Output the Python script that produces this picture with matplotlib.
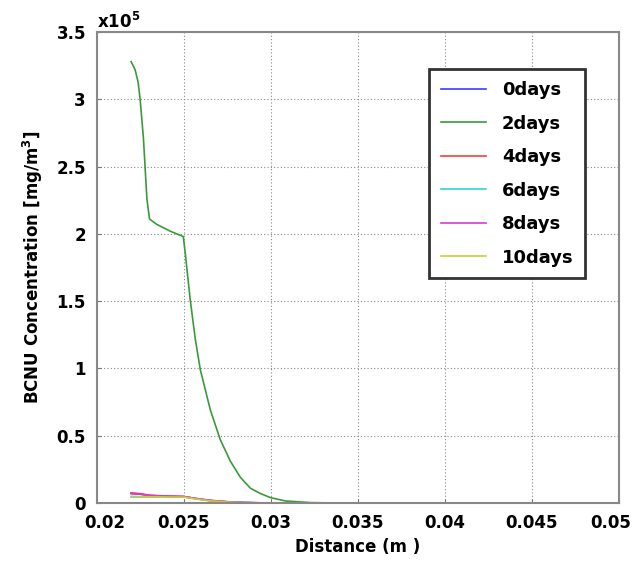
import numpy as np
import matplotlib
matplotlib.use("Agg")
import matplotlib.pyplot as plt
from matplotlib.transforms import ScaledTranslation

# Distance (m) and concentration (x1e5 mg/m^3)
x_green = [0.02196, 0.02219, 0.02236, 0.02248, 0.02267, 0.02287, 0.02302,
           0.02344, 0.02421, 0.02496, 0.02508, 0.02536, 0.02565, 0.02594,
           0.02652, 0.02709, 0.02767, 0.02825, 0.02882, 0.0294, 0.02998,
           0.03084, 0.03228, 0.03361]
y_green = [3.28, 3.22, 3.13, 3.00, 2.71, 2.26, 2.11, 2.07, 2.02, 1.98, 1.85,
           1.51, 1.22, 0.99, 0.69, 0.47, 0.31, 0.19, 0.11, 0.07, 0.04, 0.015,
           0.003, 0.0]

x_low = [0.02196, 0.0225, 0.023, 0.024, 0.025, 0.0258, 0.0265, 0.0275,
         0.0285, 0.0295, 0.0305]
y_0days = [0.070, 0.065, 0.055, 0.050, 0.048, 0.030, 0.018, 0.008, 0.003, 0.001, 0.0]
y_4days = [0.075, 0.070, 0.058, 0.052, 0.048, 0.032, 0.020, 0.010, 0.004, 0.001, 0.0]
y_6days = [0.045, 0.045, 0.045, 0.045, 0.045, 0.030, 0.018, 0.008, 0.003, 0.001, 0.0]
y_8days = [0.072, 0.066, 0.056, 0.050, 0.047, 0.031, 0.019, 0.009, 0.003, 0.001, 0.0]
y_10days = [0.050, 0.048, 0.046, 0.045, 0.044, 0.028, 0.016, 0.007, 0.002, 0.0, 0.0]

labels = ["0days", "2days", "4days", "6days", "8days", "10days"]
colours = ["#3b3bff", "#3a9a3a", "#ff3b3b", "#2ed6d6", "#d63bd6", "#cccc33"]

plt.rcParams["font.family"] = "DejaVu Sans"
plt.rcParams["font.weight"] = "bold"

fig = plt.figure(figsize=(6.36, 5.65), dpi=100)
ax = fig.add_axes([0.1525, 0.1097, 0.8205, 0.8337])

series = [(x_low, y_0days), (x_green, y_green), (x_low, y_4days),
          (x_low, y_6days), (x_low, y_8days), (x_low, y_10days)]
for (xs, ys), lab, c in zip(series, labels, colours):
    ax.plot(xs, ys, color=c, linewidth=1.2, label=lab)

ax.set_xlim(0.02, 0.05)
ax.set_ylim(0, 3.5)
ax.set_xticks([0.02, 0.025, 0.03, 0.035, 0.04, 0.045, 0.05])
ax.set_xticklabels(["0.02", "0.025", "0.03", "0.035", "0.04", "0.045", "0.05"])
ax.set_yticks([0, 0.5, 1, 1.5, 2, 2.5, 3, 3.5])
ax.set_yticklabels(["0", "0.5", "1", "1.5", "2", "2.5", "3", "3.5"])
ax.tick_params(labelsize=12, length=3, direction="in", color="#777777")
ax.tick_params(axis="y", pad=8)
ax.tick_params(axis="x", pad=8)
# nudge first/last x tick labels like the reference
xt = ax.get_xticklabels()
xt[0].set_transform(xt[0].get_transform() + ScaledTranslation(0.08, 0, fig.dpi_scale_trans))
xt[-1].set_transform(xt[-1].get_transform() + ScaledTranslation(-0.08, 0, fig.dpi_scale_trans))

ax.grid(True, linestyle=(0, (1, 2)), color="#888888", linewidth=0.8)
for s in ax.spines.values():
    s.set_color("#888888")
    s.set_linewidth(1.5)

ax.set_xlabel("Distance (m )", fontsize=12, fontweight="bold", labelpad=4)
ax.set_ylabel("BCNU Concentration [mg/m$^3$]", fontsize=12, fontweight="bold", labelpad=8)
ax.text(0.0, 1.0, r"x10$^5$", transform=ax.transAxes, fontsize=12,
        fontweight="bold", ha="left", va="bottom")

leg = ax.legend(loc="upper right", bbox_to_anchor=(0.953, 0.94), fontsize=13,
                handlelength=2.5, labelspacing=0.86, borderpad=0.65,
                handletextpad=0.9, fancybox=False, framealpha=1)
leg.get_frame().set_edgecolor("#333333")
leg.get_frame().set_linewidth(2)

fig.savefig("out.png", dpi=100)
